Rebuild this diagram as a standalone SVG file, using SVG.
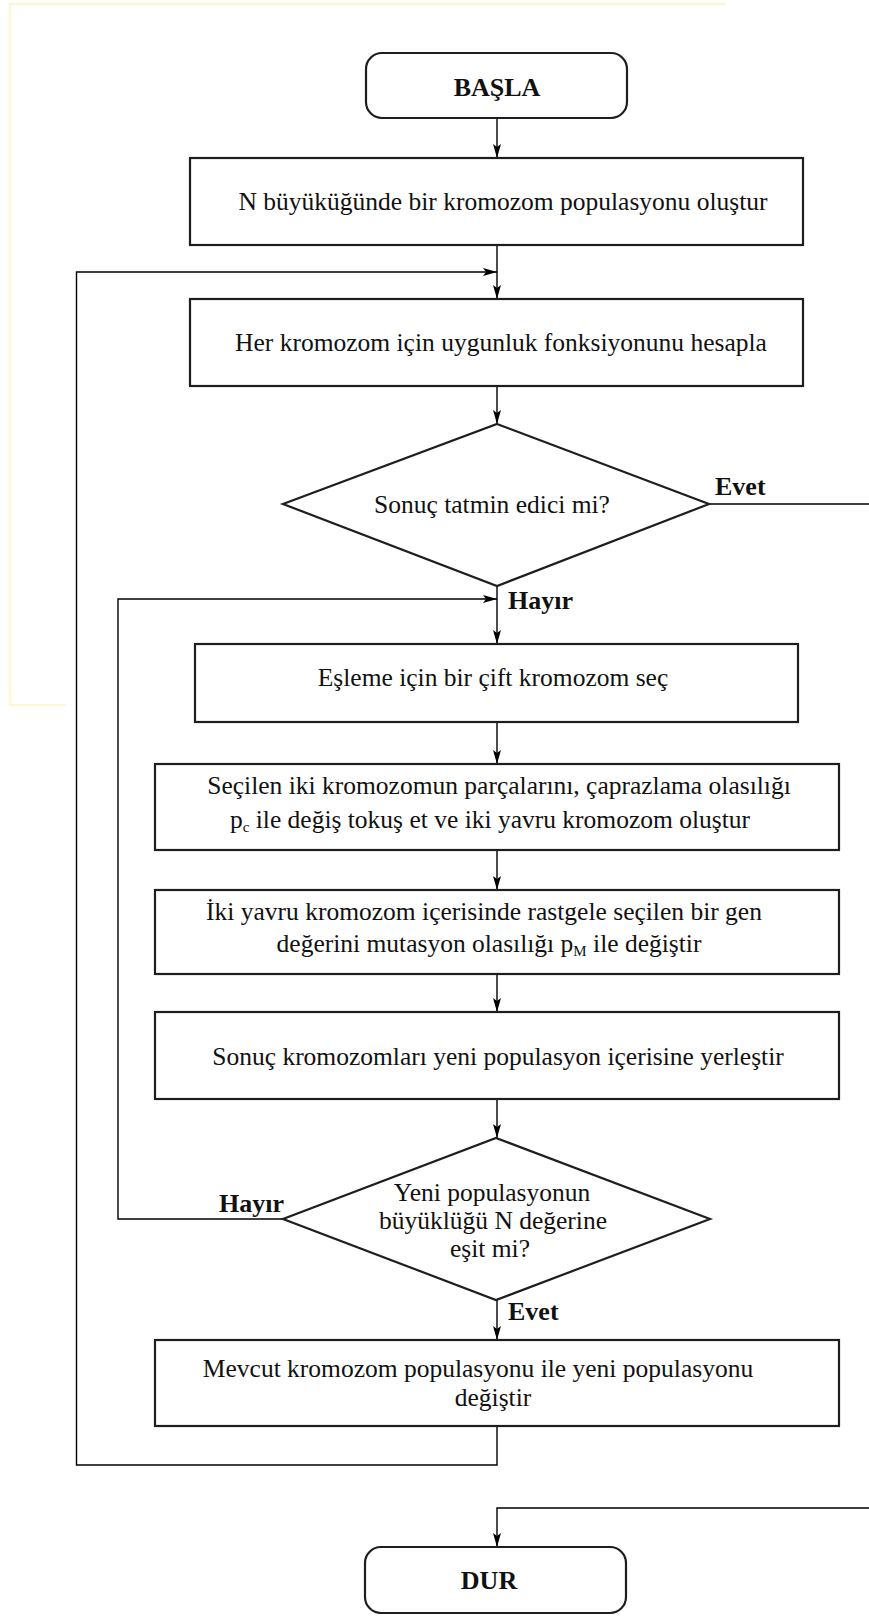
<svg xmlns="http://www.w3.org/2000/svg" width="869" height="1616" viewBox="0 0 869 1616">
<defs>
<marker id="arr" viewBox="0 0 14 8" refX="14" refY="4" markerWidth="14" markerHeight="8" markerUnits="userSpaceOnUse" orient="auto">
<path d="M0,0 L14,4 L0,8 L3,4 z" fill="#000"/>
</marker>
<style>
.box{fill:#fff;stroke:#1e1e1e;stroke-width:2.2}
.t{font-family:"Liberation Serif","Times New Roman",serif;font-size:25.5px;fill:#111;text-anchor:middle}
.b{font-family:"Liberation Serif","Times New Roman",serif;font-size:26px;font-weight:bold;fill:#111}
.s{font-size:15px}
.c{fill:none;stroke:#000;stroke-width:1.4}
.ca{fill:none;stroke:#000;stroke-width:1.4;marker-end:url(#arr)}
</style>
</defs>
<rect width="869" height="1616" fill="#fff"/>
<path d="M726,4 H10 V705 H66" fill="none" stroke="#fff6d6" stroke-width="2.5"/>

<g id="connectors">
<line class="ca" x1="497" y1="117" x2="497" y2="158"/>
<line class="ca" x1="497" y1="245" x2="497" y2="299"/>
<path class="ca" d="M497,1426 V1465 H76.5 V272 H497"/>
<line class="ca" x1="497" y1="386" x2="497" y2="424"/>
<line class="c" x1="709" y1="504" x2="869" y2="504"/>
<line class="ca" x1="497" y1="586" x2="497" y2="644"/>
<path class="ca" d="M283,1219 H118 V599 H497"/>
<line class="ca" x1="497" y1="722" x2="497" y2="764"/>
<line class="ca" x1="497" y1="850" x2="497" y2="890"/>
<line class="ca" x1="497" y1="974" x2="497" y2="1012"/>
<line class="ca" x1="497" y1="1099" x2="497" y2="1138"/>
<line class="ca" x1="497" y1="1300" x2="497" y2="1340"/>
<path class="ca" d="M869,1508 H497 V1547"/>
</g>

<g id="basla">
<rect class="box" x="366" y="53" width="261" height="65" rx="16"/>
<text class="b" x="497" y="96" text-anchor="middle">BAŞLA</text>
</g>

<g id="olustur">
<rect class="box" x="190" y="158" width="613" height="87"/>
<text class="t" x="503" y="210">N büyüküğünde bir kromozom populasyonu oluştur</text>
</g>

<g id="hesapla">
<rect class="box" x="190" y="299" width="613" height="87"/>
<text class="t" x="501" y="351">Her kromozom için uygunluk fonksiyonunu hesapla</text>
</g>

<g id="karar1">
<polygon class="box" points="497,424 709,504 497,586 283,504"/>
<text class="t" x="492" y="513">Sonuç tatmin edici mi?</text>
<text class="b" x="715" y="495">Evet</text>
<text class="b" x="508" y="609">Hayır</text>
</g>

<g id="secim">
<rect class="box" x="195" y="644" width="603" height="78"/>
<text class="t" x="493" y="686">Eşleme için bir çift kromozom seç</text>
</g>

<g id="caprazlama">
<rect class="box" x="155" y="764" width="684" height="86"/>
<text class="t" x="499" y="794">Seçilen iki kromozomun parçalarını, çaprazlama olasılığı</text>
<text class="t" x="490" y="828">p<tspan class="s" dy="4">c</tspan><tspan dy="-4"> ile değiş tokuş et ve iki yavru kromozom oluştur</tspan></text>
</g>

<g id="mutasyon">
<rect class="box" x="155" y="890" width="684" height="84"/>
<text class="t" x="484" y="920">İki yavru kromozom içerisinde rastgele seçilen bir gen</text>
<text class="t" x="489" y="952">değerini mutasyon olasılığı p<tspan class="s" dy="4">M</tspan><tspan dy="-4"> ile değiştir</tspan></text>
</g>

<g id="yerlestir">
<rect class="box" x="155" y="1012" width="684" height="87"/>
<text class="t" x="498" y="1065">Sonuç kromozomları yeni populasyon içerisine yerleştir</text>
</g>

<g id="karar2">
<polygon class="box" points="496,1138 710,1219 496,1300 283,1219"/>
<text class="t" x="492" y="1201">Yeni populasyonun</text>
<text class="t" x="493" y="1229">büyüklüğü N değerine</text>
<text class="t" x="490" y="1257">eşit mi?</text>
<text class="b" x="284" y="1212" text-anchor="end">Hayır</text>
<text class="b" x="508" y="1320">Evet</text>
</g>

<g id="degistir">
<rect class="box" x="155" y="1340" width="684" height="86"/>
<text class="t" x="478" y="1377">Mevcut kromozom populasyonu ile yeni populasyonu</text>
<text class="t" x="493" y="1406">değiştir</text>
</g>

<g id="dur">
<rect class="box" x="365" y="1547" width="261" height="66" rx="16"/>
<text class="b" x="489" y="1589" text-anchor="middle">DUR</text>
</g>
</svg>
